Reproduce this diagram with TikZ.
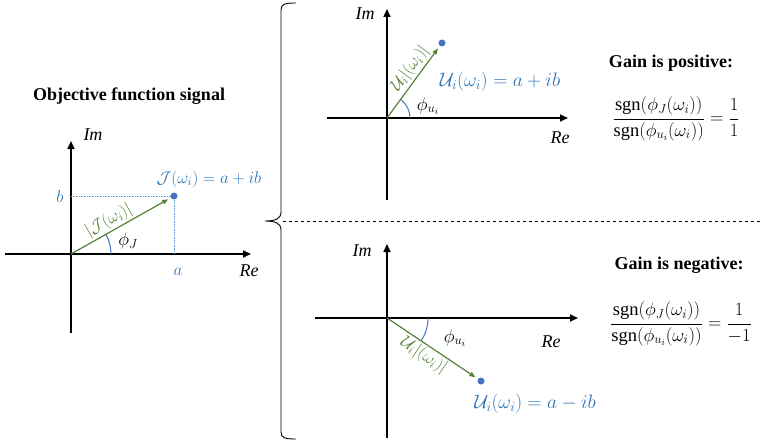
\RequirePackage{fix-cm}
\documentclass[tikz,border=0pt]{standalone}
\usepackage{fontspec}
\setmainfont{Liberation Serif}
\usetikzlibrary{arrows.meta}
\definecolor{lblue}{HTML}{2E75B6}
\definecolor{dotb}{HTML}{4472C4}
\definecolor{dotl}{HTML}{5B9BD5}
\definecolor{vgreen}{HTML}{548235}
\tikzset{
  axis/.style={line width=1.6pt, -{Triangle[length=8pt,width=7pt]}},
  vec/.style={vgreen, line width=1.2pt, -{Triangle[length=6pt,width=4.5pt]}, shorten >=3pt},
  tipdot/.style={circle, fill=dotb, inner sep=0pt, minimum size=7pt},
  lbl/.style={text=lblue, font=\fontsize{19.5}{22}\selectfont},
  glbl/.style={text=vgreen, font=\fontsize{17}{19}\selectfont, inner sep=1.5pt},
  axlbl/.style={font=\fontsize{18}{21}\selectfont\itshape},
  philbl/.style={font=\fontsize{18.5}{22}\selectfont},
  ttl/.style={font=\fontsize{18}{21}\selectfont\bfseries},
  frac/.style={font=\fontsize{18.5}{21}\selectfont},
  angarc/.style={dotb, line width=1pt},
  guide/.style={dotl, densely dotted, line width=0.6pt}
}
\begin{document}
\begin{tikzpicture}[x=1pt,y=-1pt]
\useasboundingbox (0,0) rectangle (761,444);

% ---------- left: objective function signal ----------
\node[ttl] (title) at (129,96) {Objective function signal};
\coordinate (O1) at (71,254);
\coordinate (L1a) at (5,254);  \coordinate (L1b) at (251,254);
\coordinate (L1c) at (71,333); \coordinate (L1d) at (71,141);
\draw[axis] (L1a) -- (L1b);
\draw[axis] (L1c) -- (L1d);
\node[axlbl] (im1) at (93,135) {Im};
\node[axlbl] (re1) at (249,271) {Re};
\node[tipdot] (P1) at (174,196) {};
\coordinate (B1) at (71,196);
\coordinate (A1) at (174,254);
\draw[guide] (B1) -- (P1.west);
\draw[guide] (P1.south) -- (A1);
\node[lbl, font=\fontsize{17}{20}\selectfont] (b1) at (60,197) {$b$};
\node[lbl, font=\fontsize{17}{20}\selectfont] (a1) at (178,272) {$a$};
\draw[vec] (O1) -- (P1) node[glbl, pos=0.43, above, sloped] (m1) {$|\mathcal{J}(\omega_i)|$};
\draw[angarc] (111,254) arc[start angle=0, end angle=-29.4, radius=40];
\node[philbl] (phi1) at (128,241) {$\phi_J$};
\node[lbl, font=\fontsize{17}{20}\selectfont] (v1) at (209,179) {$\mathcal{J}(\omega_i) = a + ib$};

% ---------- brace and separator ----------
\draw[line width=0.9pt] (296,3) .. controls (285,3) and (281,4) .. (281,10) -- (281,212)
  .. controls (281,219) and (275,221) .. (265,221)
  .. controls (275,221) and (281,223) .. (281,230) -- (281,432)
  .. controls (281,438) and (285,439) .. (296,439);
\coordinate (D1) at (283,221); \coordinate (D2) at (761,221);
\draw[dashed, line width=0.6pt] (D1) -- (D2);

% ---------- top right: gain positive ----------
\coordinate (O2) at (387,118);
\coordinate (L2a) at (327,118); \coordinate (L2b) at (568,118);
\coordinate (L2c) at (387,200); \coordinate (L2d) at (387,9);
\draw[axis] (L2a) -- (L2b);
\draw[axis] (L2c) -- (L2d);
\node[axlbl] (im2) at (365,14) {Im};
\node[axlbl] (re2) at (560,138) {Re};
\node[tipdot] (P2) at (442,43) {};
\draw[vec] (O2) -- (P2) node[glbl, pos=0.6, above, sloped] (m2) {$\mathcal{U}_i|(\omega_i)|$};
\draw[angarc] (410,118) arc[start angle=0, end angle=-53.7, radius=23];
\node[philbl] (phi2) at (428,106) {$\phi_{u_i}$};
\node[lbl] (v2) at (500,82) {$\mathcal{U}_i(\omega_i) = a + ib$};

% ---------- bottom right: gain negative ----------
\coordinate (O3) at (387,318);
\coordinate (L3a) at (315,318); \coordinate (L3b) at (578,318);
\coordinate (L3c) at (387,438); \coordinate (L3d) at (387,244);
\draw[axis] (L3a) -- (L3b);
\draw[axis] (L3c) -- (L3d);
\node[axlbl] (im3) at (362,251) {Im};
\node[axlbl] (re3) at (551,342) {Re};
\node[tipdot] (P3) at (481,381) {};
\draw[vec] (O3) -- (P3) node[glbl, pos=0.47, below, sloped] (m3) {$\mathcal{U}_i|(\omega_i)|$};
\draw[angarc] (428,318) arc[start angle=0, end angle=33.8, radius=41];
\node[philbl] (phi3) at (455,338) {$\phi_{u_i}$};
\node[lbl] (v3) at (535,404) {$\mathcal{U}_i(\omega_i) = a - ib$};

% ---------- right texts ----------
\node[ttl] (g1) at (671,63) {Gain is positive:};
\node[frac] (f1) at (676,119) {$\displaystyle\frac{\mathrm{sgn}(\phi_J(\omega_i))}{\mathrm{sgn}(\phi_{u_i}(\omega_i))}=\frac{1}{1}$};
\node[ttl] (g2) at (679,265) {Gain is negative:};
\node[frac] (f2) at (681,324) {$\displaystyle\frac{\mathrm{sgn}(\phi_J(\omega_i))}{\mathrm{sgn}(\phi_{u_i}(\omega_i))}=\frac{1}{-1}$};
\end{tikzpicture}
\end{document}
